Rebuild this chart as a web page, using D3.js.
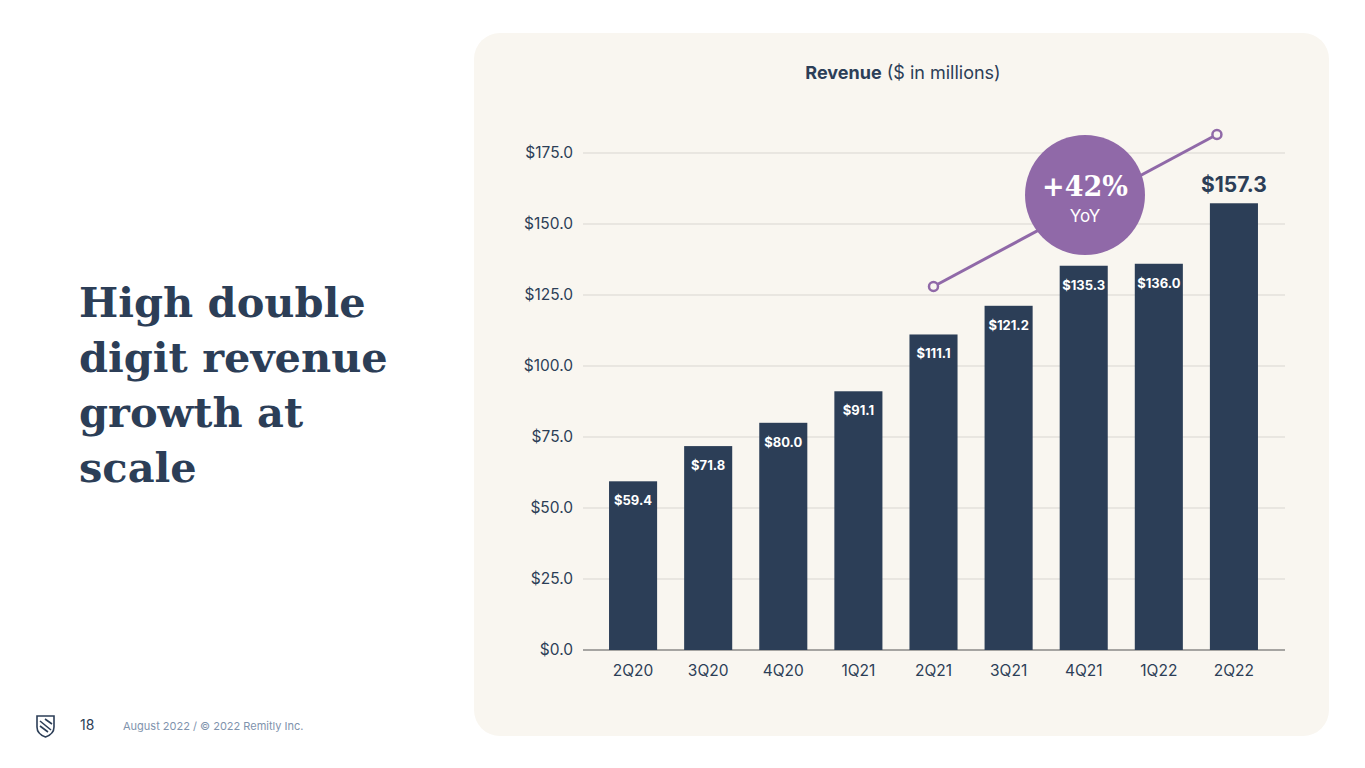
<!DOCTYPE html>
<html><head><meta charset="utf-8">
<script src="https://cdn.jsdelivr.net/npm/d3@7"></script>
<style>body{margin:0;background:#fff}svg{display:block}</style>
</head><body>
<svg id="chart" width="1365" height="768"></svg>
<script>
// data
const quarters = ['2Q20','3Q20','4Q20','1Q21','2Q21','3Q21','4Q21','1Q22','2Q22'];
const revenue = [59.4, 71.8, 80.0, 91.1, 111.1, 121.2, 135.3, 136.0, 157.3];
const yTicks = [0, 25, 50, 75, 100, 125, 150, 175];
const growthPoints = [{q: '2Q21', v: 128}, {q: '2Q22', v: 181.5}];

const navy = '#2c3e57', purple = '#9069a8';
const svg = d3.select('#chart');

// left title
const title = svg.append('text').attr('x', 79).attr('y', 317)
  .style('font-family', 'DejaVu Serif').style('font-weight', 'bold')
  .style('font-size', '41.5px').attr('fill', navy);
['High double', 'digit revenue', 'growth at', 'scale'].forEach((t, i) =>
  title.append('tspan').attr('x', 79).attr('dy', i ? 55 : 0).text(t));

// footer
const logo = svg.append('g').attr('transform', 'translate(36,714)')
  .attr('fill', 'none').attr('stroke', navy).attr('stroke-width', 1.6);
logo.append('path').attr('d', 'M1,2 L18,2 L18,13 Q18,20 9.5,23 Q1,20 1,13 Z');
logo.append('path').attr('d', 'M4,7 L15,16 M4,12 L12,18 M9,5 L16,10');
svg.append('text').attr('x', 80).attr('y', 730).text('18')
  .style('font-family', 'Inter').style('font-size', '14px').attr('fill', navy);
svg.append('text').attr('x', 123).attr('y', 730).text('August 2022 / © 2022 Remitly Inc.')
  .style('font-family', 'Inter').style('font-size', '11px').attr('fill', '#7f93ad');

// panel
svg.append('rect').attr('x', 474).attr('y', 33).attr('width', 855).attr('height', 703)
  .attr('rx', 26).attr('fill', '#f9f6f0');

const ct = svg.append('text').attr('x', 903).attr('y', 79).attr('text-anchor', 'middle')
  .style('font-family', 'Inter').style('font-size', '18px').attr('fill', navy);
ct.append('tspan').style('font-weight', 'bold').text('Revenue');
ct.append('tspan').text(' ($ in millions)');

const x = d3.scaleBand().domain(quarters).range([582, 1285]).padding(0.36);
const y = d3.scaleLinear().domain([0, 175]).range([650, 153]);

// grid + y labels
svg.append('g').selectAll('line').data(yTicks).join('line')
  .attr('x1', 583).attr('x2', 1285).attr('y1', d => y(d)).attr('y2', d => y(d))
  .attr('stroke', d => d ? '#d9d6d1' : '#555').attr('stroke-width', 1);
svg.append('g').selectAll('text').data(yTicks).join('text')
  .attr('x', 573).attr('y', d => y(d) + 5).attr('text-anchor', 'end')
  .style('font-family', 'Inter').style('font-size', '15.5px').attr('fill', navy)
  .text(d => '$' + d.toFixed(1));

// bars
svg.append('g').selectAll('rect').data(revenue).join('rect')
  .attr('x', (d, i) => x(quarters[i])).attr('width', x.bandwidth())
  .attr('y', d => y(d)).attr('height', d => y(0) - y(d)).attr('fill', navy);
svg.append('g').selectAll('text').data(revenue).join('text')
  .attr('x', (d, i) => x(quarters[i]) + x.bandwidth() / 2)
  .attr('y', (d, i) => i === revenue.length - 1 ? y(d) - 11 : y(d) + 24)
  .attr('text-anchor', 'middle')
  .style('font-family', 'Inter').style('font-weight', 'bold')
  .style('font-size', (d, i) => i === revenue.length - 1 ? '21px' : '13px')
  .attr('fill', (d, i) => i === revenue.length - 1 ? navy : '#fff')
  .text(d => '$' + d.toFixed(1));

// x labels
svg.append('g').selectAll('text').data(quarters).join('text')
  .attr('x', d => x(d) + x.bandwidth() / 2).attr('y', 676).attr('text-anchor', 'middle')
  .style('font-family', 'Inter').style('font-size', '15.5px').attr('fill', navy).text(d => d);

// growth line
const px = d => x(d.q) + x.bandwidth() / 2;
svg.append('line').attr('x1', px(growthPoints[0])).attr('y1', y(growthPoints[0].v))
  .attr('x2', px(growthPoints[1]) - 17).attr('y2', y(growthPoints[1].v))
  .attr('stroke', purple).attr('stroke-width', 3);
svg.append('g').selectAll('circle').data(growthPoints).join('circle')
  .attr('cx', (d, i) => px(d) - (i ? 17 : 0)).attr('cy', d => y(d.v)).attr('r', 4.5)
  .attr('fill', '#f9f6f0').attr('stroke', purple).attr('stroke-width', 2.5);
svg.append('circle').attr('cx', 1085).attr('cy', 195).attr('r', 60).attr('fill', purple);
svg.append('text').attr('x', 1085).attr('y', 196).attr('text-anchor', 'middle')
  .style('font-family', 'DejaVu Serif').style('font-weight', 'bold').style('font-size', '27px')
  .attr('fill', '#fff').text('+42%');
svg.append('text').attr('x', 1085).attr('y', 222).attr('text-anchor', 'middle')
  .style('font-family', 'Inter').style('font-size', '17px').attr('fill', '#fff').text('YoY');
</script>
</body></html>
